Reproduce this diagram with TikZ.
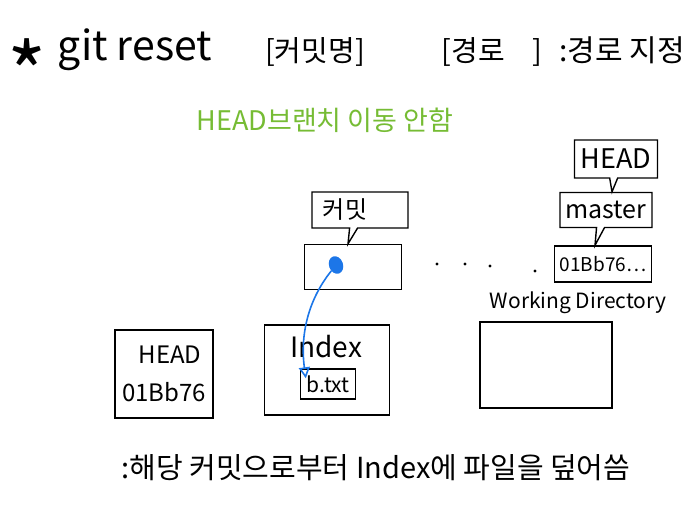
\documentclass[tikz,border=0pt]{standalone}
\usepackage{fontspec}
\setmainfont{Noto Sans CJK KR}
\usetikzlibrary{shapes.callouts,shapes.geometric,arrows.meta}
\definecolor{hgreen}{RGB}{118,188,52}
\definecolor{hblue}{RGB}{28,118,232}
\tikzset{
  box/.style={draw=black,line width=1.4pt,rectangle,inner sep=0pt,font=\fontsize{17}{20}\selectfont},
  callbox/.style={box,rectangle callout,callout pointer width=8pt},
  lbl/.style={inner sep=0pt,font=\fontsize{18}{22}\selectfont},
}
\begin{document}
\begin{tikzpicture}[x=1pt,y=-1pt]
\useasboundingbox (0,0) rectangle (700,522);
% title
\node[lbl,font=\fontsize{84}{88}\selectfont] (star) at (27,72) {*};
\node[lbl,font=\fontsize{41}{44}\selectfont] (cmd) at (135,50) {git reset};
\node[lbl,font=\fontsize{29}{34}\selectfont] (arg1) at (315,52) {[커밋명]};
\node[lbl,font=\fontsize{29}{34}\selectfont] (arg2) at (492,52) {[경로\hspace*{28pt}]};
\node[lbl,font=\fontsize{30}{34}\selectfont] (desc) at (622,50) {:경로 지정};
% green note
\node[lbl,text=hgreen,font=\fontsize{27}{32}\selectfont] (note) at (325,120) {HEAD브랜치 이동 안함};
% right column
\node[box,minimum width=97pt,minimum height=36pt,font=\fontsize{19}{22}\selectfont] (hash) at (603,264) {01Bb76…};
\node[callbox,minimum width=92pt,minimum height=35pt,font=\fontsize{25}{28}\selectfont,callout absolute pointer={([xshift=-8pt]hash.north)}] (master) at (606,210) {master};
\node[callbox,minimum width=83pt,minimum height=38pt,font=\fontsize{27}{30}\selectfont,callout absolute pointer={([xshift=6pt]master.north)}] (headcall) at (616,159) {HEAD};
% commit
\node[box,minimum width=97pt,minimum height=45pt] (commitbox) at (353,267) {};
\node[callbox,minimum width=96pt,minimum height=36pt,font=\fontsize{24}{28}\selectfont,callout absolute pointer={([xshift=-5pt]commitbox.north)}] (commitcall) at (360,210) {커밋\hspace*{30pt}};
% dots
\foreach \px/\py in {437/264,465/264,490/266,535/271}
  \fill (\px,\py) circle (1.6pt);
% bottom boxes
\node[box,minimum width=98pt,minimum height=88pt,align=center,font=\fontsize{24}{38}\selectfont] (headbox) at (164,374) {\hspace*{12pt}HEAD\\01Bb76};
\node[box,minimum width=125pt,minimum height=90pt] (indexbox) at (327,370) {};
\node[lbl,font=\fontsize{28}{30}\selectfont] (indexlbl) at (326,347) {Index};
\node[box,minimum width=55pt,minimum height=30pt,font=\fontsize{21}{24}\selectfont] (btxt) at (328,384) {b.txt};
\node[box,minimum width=132pt,minimum height=86pt] (wdbox) at (546,365) {};
\node[lbl,font=\fontsize{21}{24}\selectfont] (wdlbl) at (578,303) {Working Directory};
% blue arrow
\node[draw=none,fill=hblue,ellipse,minimum width=14pt,minimum height=18pt,inner sep=0pt,rotate=20] (bluedot) at (336,265) {};
\draw[hblue,line width=1.6pt,-{Triangle[open,length=11pt,width=11pt]}] (bluedot) .. controls (308,300) and (300,335) .. ([shift={(6pt,-10pt)}]btxt.north west);
% bottom text
\node[lbl,font=\fontsize{29}{32}\selectfont] (bottom) at (376,468) {:해당 커밋으로부터 Index에 파일을 덮어씀};
\end{tikzpicture}
\end{document}
